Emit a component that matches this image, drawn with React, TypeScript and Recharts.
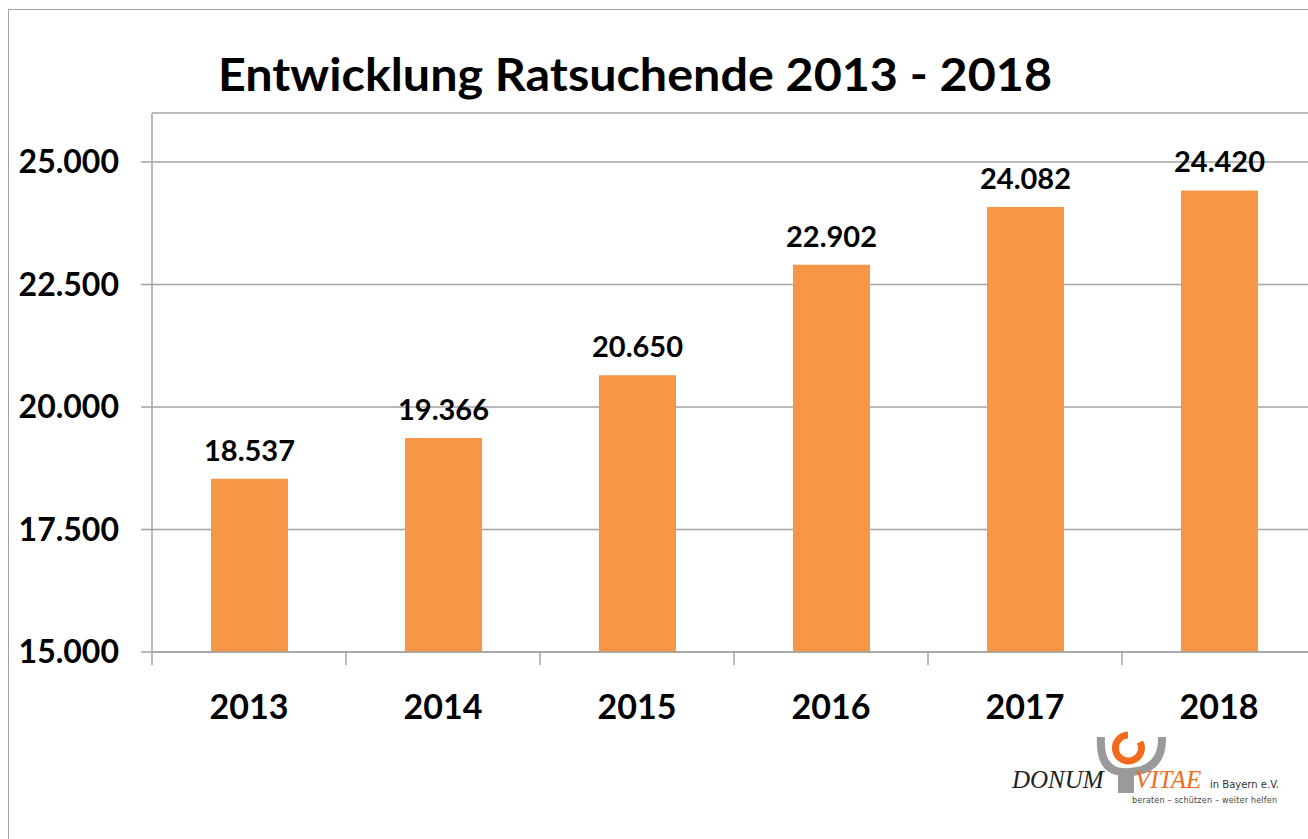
import { Bar, BarChart, CartesianGrid, LabelList, XAxis, YAxis } from 'recharts';

const years = ['2013', '2014', '2015', '2016', '2017', '2018'];
const ratsuchende = [18537, 19366, 20650, 22902, 24082, 24420];
const yTicks = [15000, 17500, 20000, 22500, 25000];
const yDomain = [15000, 26000];

const data = years.map((year, i) => ({ year, value: ratsuchende[i] }));

const fmt = (v: any) => String(v).replace(/\B(?=(\d{3})+(?!\d))/g, '.');

const FONT = 'Lato, "Open Sans", sans-serif';
const GRID = '#a3a3a3';
const ORANGE = '#F79646';
const LABEL_GAP = 43;

// year label + small tick marks on the category boundaries (Excel style)
const YearTick = (props: any) => {
  const { x, y, payload, index, width, visibleTicksCount } = props;
  const count = visibleTicksCount || years.length;
  const band = (width || 1164) / count;
  const top = y - LABEL_GAP;
  return (
    <g>
      <line x1={x - band / 2} x2={x - band / 2} y1={top} y2={top + 13} stroke={GRID} strokeWidth={1.5} />
      {index === count - 1 && (
        <line x1={x + band / 2} x2={x + band / 2} y1={top} y2={top + 13} stroke={GRID} strokeWidth={1.5} />
      )}
      <text x={x} y={y} dy="0.71em" textAnchor="middle" fontSize={34} fontWeight={700} fill="#000" fontFamily={FONT}>
        {payload.value}
      </text>
    </g>
  );
};

const Overlay = () => (
  <svg width={1308} height={839} style={{ position: 'absolute', left: 0, top: 0, pointerEvents: 'none' }}>
    <text x={218} y={91} textLength={834} lengthAdjust="spacingAndGlyphs" fontFamily={FONT} fontWeight={700} fontSize={45} fill="#000">
      Entwicklung Ratsuchende 2013 - 2018
    </text>
    {/* DONUM VITAE logo */}
    <path d="M1101 737 Q1099 770 1122 772 L1122 789 L1130 789 L1130 772 Q1163 770 1162 737" fill="none" stroke="#9a9a9a" strokeWidth={8} />
    <path d="M1140 742 A13 13 0 1 1 1128 735" fill="none" stroke="#F26B1D" strokeWidth={7} />
    <text x={1012} y={788} fontFamily='"Liberation Serif", serif' fontStyle="italic" fontSize={25} fill="#222">DONUM</text>
    <text x={1135} y={788} fontFamily='"Liberation Serif", serif' fontStyle="italic" fontSize={25} fill="#F26B1D">VITAE</text>
    <text x={1210} y={788} fontFamily={'"DejaVu Sans", sans-serif'} fontSize={10} fill="#333">in Bayern e.V.</text>
    <text x={1132} y={803} textLength={145} fontFamily={'"DejaVu Sans", sans-serif'} fontSize={8} fill="#444">beraten – schützen – weiter helfen</text>
  </svg>
);

export default function App() {
  return (
    <div style={{ position: 'absolute', left: 0, top: 0, width: 1308, height: 839, overflow: 'hidden', background: '#fff', fontFamily: FONT }}>
      <div style={{ position: 'absolute', left: 8, top: 9, width: 1400, height: 900, border: `1.5px solid ${GRID}` }} />
      <div style={{ position: 'absolute', left: 0, top: 0 }}>
        <BarChart width={1316} height={839} data={data} margin={{ top: 113, right: 0, left: 0, bottom: 127 }}>
          <CartesianGrid vertical={false} stroke={GRID} strokeWidth={1.5} />
          <YAxis
            width={152}
            type="number"
            domain={yDomain}
            ticks={yTicks}
            interval={0}
            tickFormatter={fmt}
            tickSize={11}
            tickMargin={22}
            stroke={GRID}
            strokeWidth={1.5}
            tick={{ fontSize: 32, fontWeight: 700, fill: '#000', fontFamily: FONT }}
          />
          <XAxis
            dataKey="year"
            height={60}
            axisLine={{ stroke: GRID, strokeWidth: 1.5 }}
            tickLine={false}
            tickSize={0}
            tickMargin={LABEL_GAP}
            interval={0}
            tick={<YearTick />}
          />
          <Bar dataKey="value" fill={ORANGE} barSize={77} isAnimationActive={false}>
            <LabelList
              dataKey="value"
              position="top"
              offset={18}
              formatter={fmt}
              style={{ fontSize: 29, fontWeight: 700, fill: '#000', fontFamily: FONT }}
            />
          </Bar>
        </BarChart>
      </div>
      <Overlay />
    </div>
  );
}
